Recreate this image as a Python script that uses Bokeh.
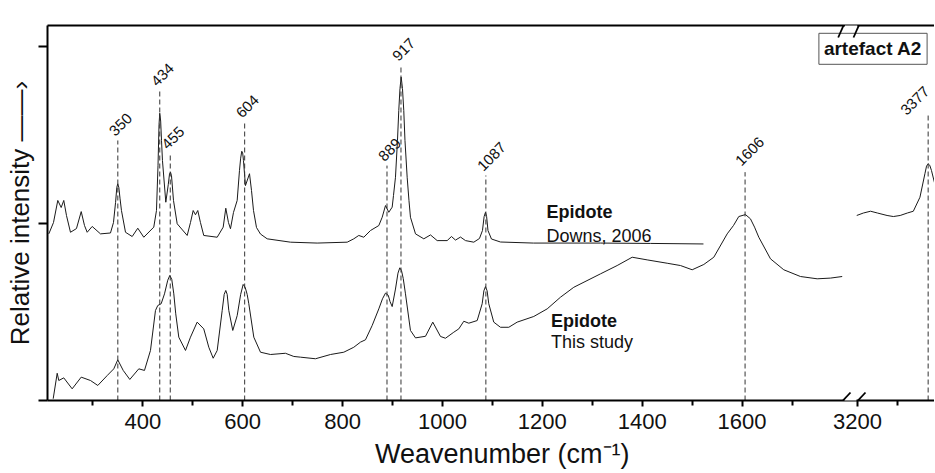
import numpy as np
from bokeh.plotting import figure
from bokeh.models import Range1d, FixedTicker, LinearAxis, Label, PolyAnnotation
from bokeh.core.properties import value
from bokeh.embed import file_html
from bokeh.resources import INLINE

# ---------------- data (wavenumber in cm-1, relative intensity) ----------------
downs_wn = [211.8, 221.2, 229.8, 236.6, 241.8, 247.2, 255.2, 267.2, 276.7, 283.3,
            288.7, 298.7, 315.3, 335.3, 341.3, 345.5, 348.0, 349.9, 352.0, 354.5,
            357.3, 365.4, 378.8, 390.0, 402.0, 422.0, 427.4, 430.5, 432.5, 434.0,
            435.8, 437.5, 439.4, 446.1, 451.0, 453.5, 455.5, 457.5, 461.5, 468.9,
            488.9, 495.5, 500.9, 505.5, 510.1, 515.5, 522.1, 549.0, 561.0, 566.2,
            571.6, 575.6, 581.6, 589.0, 593.6, 596.0, 598.2, 600.0, 601.6, 605.6,
            613.7, 617.7, 621.7, 627.7, 635.7, 649.1, 695.8, 749.2, 809.3, 822.5,
            832.5, 842.5, 856.0, 872.6, 879.4, 886.0, 892.6, 899.4, 902.0, 906.0,
            910.0, 912.6, 915.0, 917.4, 920.0, 922.6, 925.0, 929.4, 933.0, 936.0,
            946.1, 962.7, 976.1, 989.5, 1009.5, 1018.1, 1026.2, 1036.2, 1046.2, 1062.8,
            1074.2, 1080.2, 1083.5, 1086.2, 1088.5, 1091.2, 1098.2, 1116.2, 1182.3, 1316.4,
            1416.5, 1522.7]
downs_int = [0.942, 1.006, 1.131, 1.091, 1.131, 1.046, 0.951, 0.972, 1.068, 0.989,
             0.951, 0.984, 0.942, 0.947, 1.006, 1.120, 1.205, 1.225, 1.205, 1.140,
             1.074, 0.951, 0.927, 0.974, 0.923, 0.980, 1.074, 1.330, 1.560, 1.624,
             1.580, 1.470, 1.357, 1.121, 1.220, 1.280, 1.291, 1.270, 1.131, 0.999,
             0.933, 1.006, 1.074, 1.050, 1.074, 1.006, 0.933, 0.923, 0.980, 1.087,
             1.006, 0.971, 1.063, 1.131, 1.300, 1.370, 1.409, 1.400, 1.357, 1.215,
             1.282, 1.187, 1.074, 0.978, 0.941, 0.914, 0.895, 0.890, 0.895, 0.914,
             0.933, 0.923, 0.961, 0.989, 1.036, 1.102, 1.064, 1.093, 1.159, 1.262,
             1.470, 1.639, 1.764, 1.828, 1.764, 1.639, 1.470, 1.262, 1.131, 1.036,
             0.942, 0.914, 0.936, 0.904, 0.904, 0.927, 0.907, 0.924, 0.904, 0.895,
             0.916, 0.961, 1.040, 1.064, 1.040, 0.961, 0.913, 0.896, 0.890, 0.890,
             0.888, 0.885]

study_wn = [220.6, 228.6, 231.8, 241.8, 258.6, 276.7, 295.3, 309.9, 328.7, 341.9,
            349.9, 360.8, 374.0, 392.0, 403.4, 415.4, 425.4, 430.0, 436.8, 443.5,
            450.0, 454.1, 458.0, 462.1, 466.0, 472.1, 485.5, 495.5, 508.9, 522.1,
            532.2, 541.0, 549.0, 559.0, 563.0, 566.2, 569.0, 572.2, 580.2, 589.0,
            596.0, 601.0, 605.0, 609.0, 612.3, 622.3, 635.7, 655.7, 685.7, 702.4,
            715.8, 745.8, 775.9, 802.5, 822.5, 835.9, 845.9, 859.3, 872.6, 880.0,
            886.0, 891.5, 895.0, 899.4, 906.0, 911.0, 914.6, 918.0, 921.5, 926.0,
            936.0, 946.1, 966.1, 980.7, 996.1, 1006.1, 1022.7, 1032.8, 1042.8, 1052.8,
            1069.6, 1079.6, 1083.0, 1086.2, 1089.5, 1092.8, 1102.8, 1116.2, 1132.9, 1149.7,
            1182.9, 1209.8, 1236.4, 1263.0, 1316.5, 1349.9, 1380.0, 1410.0, 1450.1, 1476.7,
            1500.1, 1523.4, 1543.4, 1570.2, 1583.0, 1593.4, 1606.8, 1616.8, 1625.0, 1633.5,
            1656.9, 1683.5, 1716.9, 1750.4, 1777.0, 1800.5]
study_int = [0.010, 0.154, 0.113, 0.128, 0.066, 0.132, 0.113, 0.085, 0.141, 0.179,
             0.230, 0.170, 0.119, 0.179, 0.170, 0.283, 0.509, 0.537, 0.547, 0.603,
             0.680, 0.707, 0.685, 0.603, 0.490, 0.358, 0.283, 0.358, 0.443, 0.405,
             0.301, 0.239, 0.283, 0.509, 0.600, 0.622, 0.600, 0.509, 0.396, 0.480,
             0.600, 0.656, 0.640, 0.600, 0.547, 0.358, 0.273, 0.260, 0.267, 0.249,
             0.245, 0.236, 0.260, 0.273, 0.301, 0.330, 0.343, 0.424, 0.518, 0.575,
             0.607, 0.595, 0.560, 0.531, 0.630, 0.720, 0.750, 0.735, 0.690, 0.603,
             0.396, 0.354, 0.363, 0.443, 0.362, 0.352, 0.386, 0.405, 0.448, 0.437,
             0.452, 0.547, 0.620, 0.644, 0.620, 0.547, 0.443, 0.414, 0.414, 0.443,
             0.475, 0.518, 0.584, 0.640, 0.716, 0.763, 0.810, 0.795, 0.776, 0.763,
             0.739, 0.769, 0.810, 0.942, 0.990, 1.040, 1.051, 1.027, 0.980, 0.923,
             0.801, 0.739, 0.701, 0.688, 0.692, 0.701]

oh_wn = [3198.3, 3215.0, 3232.9, 3250.0, 3274.2, 3290.0, 3307.0, 3325.0, 3339.9,
         3356.5, 3368.9, 3373.0, 3377.0, 3381.0, 3385.4, 3393.6]
oh_int = [1.046, 1.060, 1.070, 1.060, 1.046, 1.040, 1.046, 1.060, 1.070,
          1.149, 1.282, 1.325, 1.338, 1.330, 1.300, 1.225]

peak_wn = [350, 434, 455, 604, 889, 917, 1087, 1606, 3377]
peak_labels = ["350", "434", "455", "604", "889", "917", "1087", "1606", "3377"]

major_tick_wn = [400, 600, 800, 1000, 1200, 1400, 1600, 3200]
minor_tick_wn = [300, 500, 700, 900, 1100, 1300, 1500, 1700, 3300]

# ---------------- layout / style ----------------
peak_line_top = [1.470, 1.752, 1.395, 1.573, 1.328, 1.894, 1.272, 1.291, 1.611]
peak_label_dx = [-6, -6, -6, -6, -6, -6, -6, -7, -25]
peak_label_dy = [-7, -7, -7, -7, -7, -7, -7, -9, -3]

BREAK_LO = 1811.0     # last wavenumber of the left segment
BREAK_HI = 3175.0     # first wavenumber of the right segment
RIGHT_SCALE = 0.8     # relative compression of the right segment


def axis_pos(w):
    w = np.asarray(w, dtype=float)
    return np.where(w <= BREAK_LO, w, BREAK_LO + (w - BREAK_HI) * RIGHT_SCALE)


W, H = 934, 472
BL, BR, BT = 47, 0, 25
FRAME_B = 400
BB = H - FRAME_B
PX = 2.0024            # cm-1 per pixel
X0 = 209.2
X1 = X0 + (W - BL - BR) * PX
Y0, Y1 = 0.0, 2.12
PY = (Y1 - Y0) / (FRAME_B - BT)


def page_x(px):
    return X0 + (px - BL) * PX


def page_y(py):
    return Y0 + (FRAME_B - py) * PY


FONT = "Liberation Sans"
INK = "#1a1a1a"

p = figure(width=W, height=H, x_range=Range1d(X0, X1), y_range=Range1d(Y0, Y1),
           output_backend="svg", toolbar_location=None,
           min_border_left=BL, min_border_right=BR, min_border_top=BT, min_border_bottom=BB)
p.outline_line_color = None
p.xgrid.visible = False
p.ygrid.visible = False
p.background_fill_color = "white"
p.border_fill_color = "white"

# bottom axis
xa = p.xaxis[0]
maj = [int(round(float(v))) for v in axis_pos(major_tick_wn)]
mnr = [int(round(float(v))) for v in axis_pos(minor_tick_wn)]
xa.ticker = FixedTicker(ticks=maj, minor_ticks=mnr)
xa.major_label_overrides = {u: str(w) for u, w in zip(maj, major_tick_wn)}
xa.axis_line_width = 2
xa.axis_line_color = "black"
xa.major_tick_line_width = 2
xa.major_tick_out = 6
xa.major_tick_in = 0
xa.minor_tick_line_width = 2
xa.minor_tick_out = 5
xa.minor_tick_in = 0
xa.major_label_text_font = FONT
xa.major_label_text_font_size = "22px"
xa.major_label_text_color = "#111111"
xa.major_label_standoff = 7
xa.axis_label = "\u00a0\u00a0\u00a0Weavenumber (cm\u207b\u00b9)"
xa.axis_label_text_font = FONT
xa.axis_label_text_font_size = "27px"
xa.axis_label_text_font_style = "normal"
xa.axis_label_text_color = "#111111"
xa.axis_label_standoff = 7

# left axis
ya = p.yaxis[0]
ya.ticker = FixedTicker(ticks=[0, 1, 2])
ya.major_label_overrides = {0: "", 1: "", 2: ""}
ya.axis_line_width = 2
ya.major_tick_line_width = 2
ya.major_tick_out = 9
ya.major_tick_in = 0
ya.minor_tick_line_color = None
ya.major_label_standoff = 0
ya.axis_label = "Relative intensity \u2014\u2014\u203a"
ya.axis_label_text_font = FONT
ya.axis_label_text_font_size = "26px"
ya.axis_label_text_font_style = "normal"
ya.axis_label_text_color = "#111111"
ya.axis_label_standoff = 4

# top frame line
top = LinearAxis(ticker=FixedTicker(ticks=[]), axis_line_width=2,
                 major_tick_line_color=None, minor_tick_line_color=None)
p.add_layout(top, "above")

# spectra
p.line(axis_pos(downs_wn), downs_int, line_color=INK, line_width=1)
p.line(axis_pos(study_wn), study_int, line_color=INK, line_width=1)
p.line(axis_pos(oh_wn), oh_int, line_color=INK, line_width=1)

# peak markers
pu = axis_pos(peak_wn)
p.segment(x0=pu, y0=[0] * len(pu), x1=pu, y1=peak_line_top,
          line_color="#333333", line_width=1, line_dash="5 3")
p.text(x=pu, y=peak_line_top, text=peak_labels, angle=45, angle_units="deg",
       text_align="left", text_baseline="alphabetic",
       x_offset=peak_label_dx, y_offset=peak_label_dy,
       text_font=value(FONT), text_font_size="15px", text_color="#111111")


# annotations
def add_label(px, py, text, size="18px", style="normal", **kw):
    lab = Label(x=page_x(px), y=page_y(py), text=text, text_font=FONT,
                text_font_size=size, text_font_style=style, text_color="#111111",
                text_align=kw.pop("align", "left"),
                text_baseline=kw.pop("baseline", "alphabetic"), **kw)
    p.add_layout(lab)
    return lab


add_label(546, 211.5, "Epidote", style="bold")
add_label(546, 235, "Downs, 2006")
add_label(550.5, 320, "Epidote", style="bold")
add_label(550.5, 341.5, "This study")
add_label(872.5, 48.3, "artefact A2", size="19px", style="bold", align="center",
          baseline="middle", border_line_color="#555555", border_line_width=1,
          background_fill_color="white", padding=5)


# axis break marks
def break_marks(cy, c1, c2, hx, hy, gap_h):
    gap = PolyAnnotation(xs=[page_x(c1 + 1.5), page_x(c2 - 1.5), page_x(c2 - 1.5), page_x(c1 + 1.5)],
                         ys=[page_y(cy - gap_h), page_y(cy - gap_h), page_y(cy + gap_h), page_y(cy + gap_h)],
                         fill_color="white", fill_alpha=1, line_color=None, level="overlay")
    p.add_layout(gap)
    for c in (c1, c2):
        s = PolyAnnotation(xs=[page_x(c - hx), page_x(c + hx)],
                           ys=[page_y(cy + hy), page_y(cy - hy)],
                           fill_alpha=0, line_color="black", line_alpha=1.0,
                           line_width=1.8, level="overlay")
        p.add_layout(s)


break_marks(400, 842.5, 857.5, 7.5, 8, 3.5)
break_marks(25, 843, 858.3, 5.3, 12, 3.5)

open("out.html", "w").write(file_html(p, INLINE))
